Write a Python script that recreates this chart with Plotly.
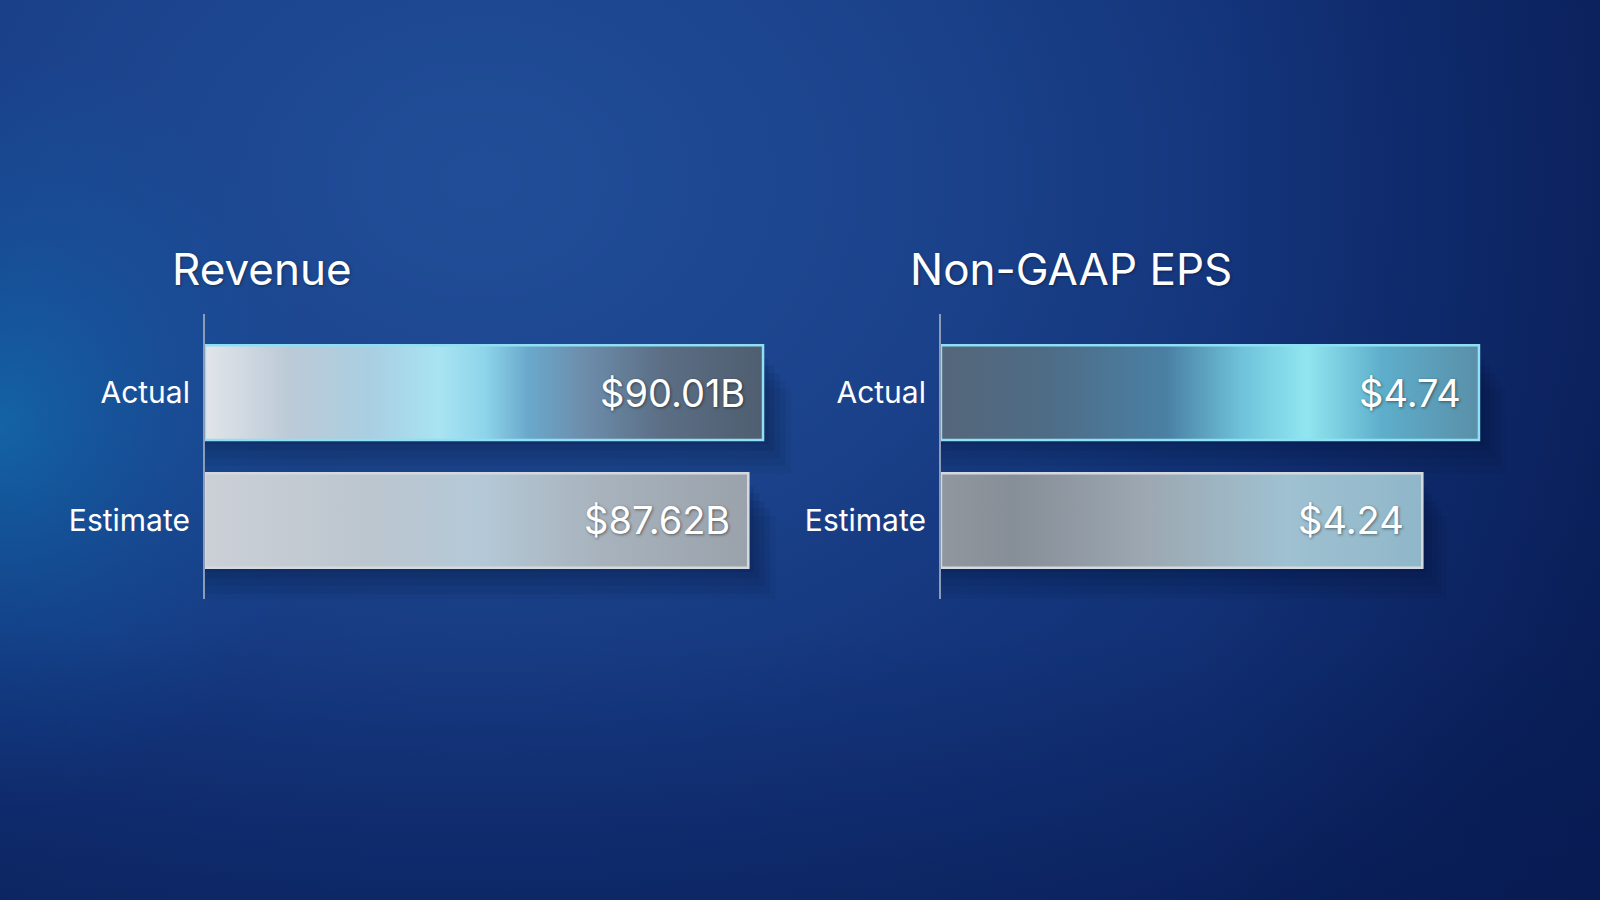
import plotly.graph_objects as go

# ---------------- data ----------------
categories = ["Estimate", "Actual"]          # bottom -> top
revenue_values = [87.62, 90.01]              # $ billions
eps_values = [4.24, 4.74]                    # $ per share
revenue_title = "Revenue"
eps_title = "Non-GAAP EPS"
revenue_labels = [f"${v:.2f}B" for v in revenue_values]
eps_labels = [f"${v:.2f}" for v in eps_values]

# ---------------- styles ----------------
FONT = "Inter, 'Liberation Sans', Arial, sans-serif"
BAR_W = 0.74
grad = {
    ("rev", "Actual"): [[0, "#e2e5ea"], [0.15, "#bccad7"], [0.30, "#a9cfe2"], [0.42, "#a8e4f2"],
                        [0.50, "#8ed5ea"], [0.58, "#6aa8cb"], [0.68, "#6d8dab"], [0.82, "#5b6e84"], [1, "#4f5e70"]],
    ("rev", "Estimate"): [[0, "#cbd0d6"], [0.3, "#bcc6cf"], [0.5, "#b4c9d7"], [0.72, "#a8b3bd"], [1, "#9aa2ab"]],
    ("eps", "Actual"): [[0, "#55667a"], [0.2, "#4e6c86"], [0.42, "#4a80a4"], [0.56, "#6fc3da"], [0.68, "#90e6f0"],
                        [0.82, "#5eaecb"], [1, "#5a8fa8"]],
    ("eps", "Estimate"): [[0, "#90979f"], [0.15, "#868e97"], [0.42, "#9ca7b1"], [0.72, "#9fc1d1"], [1, "#8fb7c9"]],
}
edge = {"Actual": "#8fe0f4", "Estimate": "#d3d9df"}
solid = {"Actual": "#7fa8c2", "Estimate": "#b2bbc4"}

fig = go.Figure()

# ---------------- background (decorative, full-paper axes x/y) ----------------
rect_x = [0, 1, 1, 0, 0]
rect_y = [0, 0, 1, 1, 0]
fig.add_trace(go.Scatter(x=[-0.5, 1.1, 1.1, -0.5, -0.5], y=[-0.3, -0.3, 1.9, 1.9, -0.3],
                         fill="toself", mode="none", hoverinfo="skip", showlegend=False,
                         fillgradient=dict(type="radial", colorscale=[[0, "#214d98"], [0.35, "#1b438c"],
                                                                      [0.6, "#14357c"], [0.85, "#0f2b6d"],
                                                                      [1, "#0b2361"]]),
                         xaxis="x", yaxis="y"))
fig.add_trace(go.Scatter(x=rect_x, y=rect_y, fill="toself", mode="none", hoverinfo="skip", showlegend=False,
                         fillgradient=dict(type="horizontal", colorscale=[[0, "rgba(5,20,70,0)"], [0.75, "rgba(5,20,70,0)"],
                                                                         [1, "rgba(5,20,70,0.35)"]]),
                         xaxis="x", yaxis="y"))
fig.add_trace(go.Scatter(x=[-0.2, 0.2, 0.2, -0.2, -0.2], y=[0.1, 0.1, 0.95, 0.95, 0.1],
                         fill="toself", mode="none", hoverinfo="skip", showlegend=False,
                         fillgradient=dict(type="radial", colorscale=[[0, "rgba(15,130,190,0.55)"], [0.5, "rgba(15,110,180,0.25)"],
                                                                      [1, "rgba(15,90,170,0)"]]),
                         xaxis="x", yaxis="y"))
fig.add_trace(go.Scatter(x=rect_x, y=rect_y, fill="toself", mode="none", hoverinfo="skip", showlegend=False,
                         fillgradient=dict(type="vertical", colorscale=[[0, "rgba(5,20,70,0.3)"], [0.3, "rgba(5,20,70,0)"],
                                                                       [1, "rgba(5,20,70,0)"]]),
                         xaxis="x", yaxis="y"))


def add_panel(key, values, labels, xa, ya, xref, yref):
    ypos = list(range(len(categories)))
    # soft shadows (several faint layers)
    for dx, dy, a in [(0.05, 0.30, 0.06), (0.04, 0.24, 0.07), (0.03, 0.18, 0.08), (0.02, 0.12, 0.09), (0.01, 0.07, 0.1)]:
        fig.add_trace(go.Bar(x=[v * (1 + dx) for v in values], y=ypos, orientation="h", width=BAR_W * 0.9,
                             offset=-BAR_W * 0.45 - dy, marker=dict(color=f"rgba(2,10,40,{a})", line=dict(width=0)),
                             hoverinfo="skip", showlegend=False, xaxis=xa, yaxis=ya))
    # main bars (solid base)
    fig.add_trace(go.Bar(x=values, y=ypos, orientation="h", width=BAR_W,
                         marker=dict(color=[solid[c] for c in categories],
                                     line=dict(color=[edge[c] for c in categories], width=2)),
                         hoverinfo="skip", showlegend=False, xaxis=xa, yaxis=ya))
    # metallic gradient faces
    for i, (c, v) in enumerate(zip(categories, values)):
        y0, y1 = i - BAR_W / 2, i + BAR_W / 2
        fig.add_trace(go.Scatter(x=[0, v, v, 0, 0], y=[y0, y0, y1, y1, y0], fill="toself", mode="lines",
                                 line=dict(color=edge[c], width=2.5),
                                 fillgradient=dict(type="horizontal", colorscale=grad[(key, c)]),
                                 hoverinfo="skip", showlegend=False, xaxis=xa, yaxis=ya))
        fig.add_annotation(x=v, y=i, xref=xref, yref=yref, text=labels[i], showarrow=False,
                           xanchor="right", yanchor="middle", xshift=-16,
                           font=dict(family=FONT, size=38, color="white",
                                     shadow="1px 1px 3px rgba(0,0,0,0.45)"))


add_panel("rev", revenue_values, revenue_labels, "x2", "y2", "x2", "y2")
add_panel("eps", eps_values, eps_labels, "x3", "y3", "x3", "y3")

ydom = [0.3344, 0.6511]
yrange = [-0.615, 1.615]
yax = dict(domain=ydom, range=yrange, tickvals=list(range(len(categories))), ticktext=categories,
           showline=True, linecolor="#8c9bb6", linewidth=2, showgrid=False, zeroline=False,
           ticks="", ticklabelstandoff=7, tickfont=dict(family=FONT, size=30, color="white"),
           fixedrange=True)
xax = dict(showgrid=False, zeroline=False, showticklabels=False, showline=False, ticks="", fixedrange=True)

fig.update_layout(
    width=1600, height=900, margin=dict(l=0, r=0, t=0, b=0),
    paper_bgcolor="#0e2a6e", plot_bgcolor="rgba(0,0,0,0)", barmode="overlay", showlegend=False,
    xaxis=dict(domain=[0, 1], range=[0, 1], visible=False, fixedrange=True),
    yaxis=dict(domain=[0, 1], range=[0, 1], visible=False, fixedrange=True),
    xaxis2=dict(domain=[0.1281, 0.5156], range=[0, 100], anchor="y2", **xax),
    yaxis2=dict(anchor="x2", **yax),
    xaxis3=dict(domain=[0.5881, 0.9428], range=[0, 5], anchor="y3", **xax),
    yaxis3=dict(anchor="x3", **yax),
    font=dict(family=FONT, color="white"),
)

fig.add_annotation(x=0.1063, y=0.7011, xref="paper", yref="paper", text=revenue_title, showarrow=False,
                   xanchor="left", yanchor="middle",
                   font=dict(family=FONT, size=44, color="white", shadow="1px 1px 3px rgba(0,0,0,0.35)"))
fig.add_annotation(x=0.5675, y=0.7011, xref="paper", yref="paper", text=eps_title, showarrow=False,
                   xanchor="left", yanchor="middle",
                   font=dict(family=FONT, size=44, color="white", shadow="1px 1px 3px rgba(0,0,0,0.35)"))

fig.write_html("out.html", config={"displayModeBar": False},
               post_script="document.body.style.margin='0';document.body.style.overflow='hidden';")
